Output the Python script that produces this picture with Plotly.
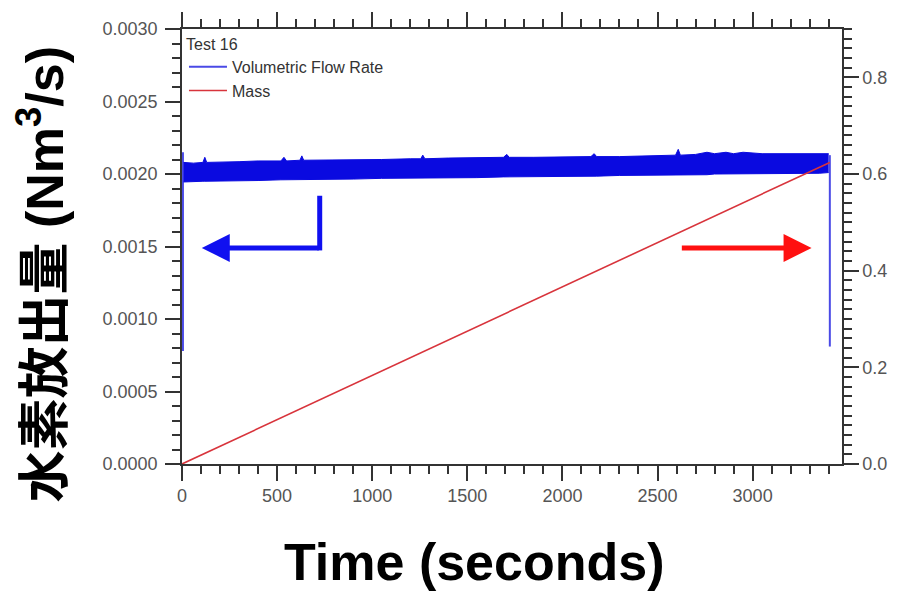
import plotly.graph_objects as go

# Hydrogen release test 16: volumetric flow rate (left axis) and mass (right axis)
flow_t = [8, 60, 110, 120, 130, 200, 300, 400, 520, 536, 550, 620, 630, 640, 750,
          900, 1050, 1200, 1255, 1266, 1277, 1400, 1550, 1690, 1708, 1720, 1850, 2000,
          2150, 2167, 2180, 2300, 2450, 2595, 2609, 2620, 2700, 2760, 2800, 2860, 2900,
          2950, 3050, 3150, 3250, 3350, 3400]
flow_upper = [2.08, 2.075, 2.08, 2.115, 2.08, 2.08, 2.085, 2.09, 2.09, 2.115, 2.09,
              2.095, 2.125, 2.095, 2.095, 2.10, 2.10, 2.105, 2.105, 2.13, 2.105, 2.11, 2.11,
              2.115, 2.135, 2.115, 2.115, 2.12, 2.12, 2.14, 2.12, 2.12, 2.125, 2.13, 2.17,
              2.13, 2.135, 2.15, 2.14, 2.15, 2.14, 2.15, 2.14, 2.14, 2.14, 2.14, 2.14]
flow_lower = [1.945, 1.95, 1.95, 1.95, 1.95, 1.955, 1.955, 1.955, 1.96, 1.96, 1.96, 1.96,
              1.96, 1.96, 1.965, 1.965, 1.97, 1.97, 1.97, 1.97, 1.97, 1.975, 1.975, 1.98,
              1.98, 1.98, 1.98, 1.985, 1.985, 1.985, 1.985, 1.99, 1.99, 1.995, 1.995, 1.995,
              1.995, 1.995, 2.0, 2.0, 2.0, 2.0, 2.0, 2.005, 2.005, 2.005, 2.01]

# start-up and shut-down transients of the flow signal (x1e-3 Nm3/s)
start_t = [5, 5]
start_flow = [0.78, 2.15]
stop_t = [3406, 3406]
stop_flow = [2.13, 0.81]

# cumulative released mass (right axis)
mass_t = [0, 3406]
mass = [0.0, 0.624]

x_ticks = [0, 500, 1000, 1500, 2000, 2500, 3000]
y_ticks = [0.0, 0.0005, 0.0010, 0.0015, 0.0020, 0.0025, 0.0030]
y2_ticks = [0.0, 0.2, 0.4, 0.6, 0.8]

BLUE = "#0a0ae0"
LIGHT_BLUE = "#4a4ae6"
RED = "#d8343c"
TICK_FONT = dict(family="Liberation Sans, Arial", size=18, color="#555555")
TITLE_FONT = dict(family="Liberation Sans, Arial, Noto Sans CJK JP", size=52, color="#000000")
LEGEND_FONT = dict(family="Liberation Sans, Arial", size=16, color="#333333")

scale = 1e-3
fig = go.Figure()

fig.add_trace(go.Scatter(
    x=start_t, y=[v * scale for v in start_flow], mode="lines",
    line=dict(color=LIGHT_BLUE, width=2), name="Volumetric Flow Rate",
    legendgroup="flow"))
fig.add_trace(go.Scatter(
    x=flow_t, y=[v * scale for v in flow_lower], mode="lines",
    line=dict(color=BLUE, width=1), showlegend=False, legendgroup="flow",
    hoverinfo="skip"))
fig.add_trace(go.Scatter(
    x=flow_t, y=[v * scale for v in flow_upper], mode="lines",
    line=dict(color=BLUE, width=1), fill="tonexty", fillcolor=BLUE,
    showlegend=False, legendgroup="flow"))
fig.add_trace(go.Scatter(
    x=stop_t, y=[v * scale for v in stop_flow], mode="lines",
    line=dict(color=LIGHT_BLUE, width=2), showlegend=False, legendgroup="flow"))
fig.add_trace(go.Scatter(
    x=mass_t, y=mass, mode="lines", yaxis="y2",
    line=dict(color=RED, width=1.6), name="Mass"))

axis_common = dict(
    showline=True, linecolor="#333333", linewidth=1.5,
    ticks="outside", ticklen=15, tickwidth=1.5, tickcolor="#333333",
    showgrid=False, zeroline=False, tickfont=TICK_FONT,
)

fig.update_layout(
    width=899, height=592,
    margin=dict(l=182, r=51, t=24, b=128),
    paper_bgcolor="white", plot_bgcolor="white",
    xaxis=dict(
        range=[0, 3470], tickvals=x_ticks, ticktext=[str(v) for v in x_ticks],
        mirror="ticks",
        minor=dict(dtick=100, ticklen=8, tickwidth=1.5, tickcolor="#333333", ticks="outside"),
        **axis_common),
    yaxis=dict(
        range=[0, 0.003], tickvals=y_ticks, ticktext=[f"{v:.4f}" for v in y_ticks],
        minor=dict(dtick=0.0001, ticklen=8, tickwidth=1.5, tickcolor="#333333", ticks="outside"),
        ticklabelstandoff=4,
        **axis_common),
    yaxis2=dict(
        range=[0, 0.9], overlaying="y", side="right",
        tickvals=y2_ticks, ticktext=[f"{v:.1f}" for v in y2_ticks],
        minor=dict(dtick=0.02, ticklen=8, tickwidth=1.5, tickcolor="#333333", ticks="outside"),
        **axis_common),
    legend=dict(
        x=0.003, y=1.0, xanchor="left", yanchor="top",
        bgcolor="rgba(0,0,0,0)",
        font=LEGEND_FONT,
        title=dict(text="Test 16", font=LEGEND_FONT),
        itemwidth=38, tracegroupgap=0,
    ),
    showlegend=True,
)

# axis titles
fig.add_annotation(
    text="<b>Time (seconds)</b>", xref="paper", yref="paper",
    x=(477 - 182) / 666, y=-(563 - 464) / 440, xanchor="center", yanchor="middle",
    showarrow=False, font=TITLE_FONT)
fig.add_annotation(
    text="<b>水素放出量 (Nm<sup>3</sup>/s)</b>", xref="paper", yref="paper",
    x=(40 - 182) / 666, y=(464 - 272) / 440, xanchor="center", yanchor="middle",
    textangle=-90, showarrow=False, font=TITLE_FONT)

# pointer to the left axis (flow rate)
fig.add_shape(type="line", xref="x", yref="y", x0=724, y0=0.00185, x1=724, y1=0.001473,
              line=dict(color="#1010f0", width=5))
fig.add_annotation(
    x=104, y=0.00149, ax=727, ay=0.00149, xref="x", yref="y", axref="x", ayref="y",
    text="", showarrow=True, arrowhead=2, arrowsize=1.12, arrowwidth=5,
    arrowcolor="#1010f0")
# pointer to the right axis (mass)
fig.add_annotation(
    x=3310, y=0.00149, ax=2620, ay=0.00149, xref="x", yref="y", axref="x", ayref="y",
    text="", showarrow=True, arrowhead=2, arrowsize=1.12, arrowwidth=5,
    arrowcolor="#ff1010")

fig.write_html("out.html")
